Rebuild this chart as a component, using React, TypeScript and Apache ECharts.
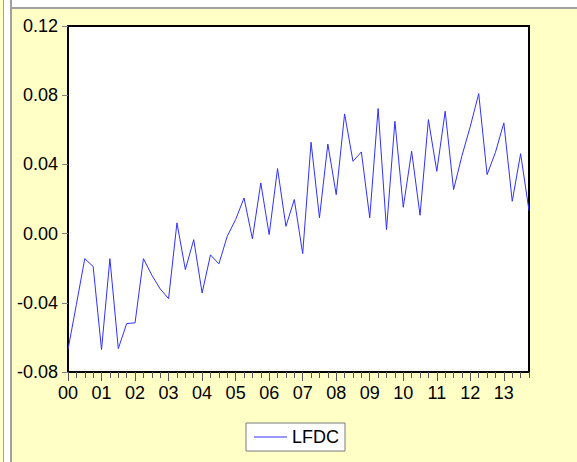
import React, { useEffect, useRef } from "react";
import * as echarts from "echarts";

const yearLabels = ["00", "01", "02", "03", "04", "05", "06", "07", "08", "09", "10", "11", "12", "13"];
const quarters = ["Q1", "Q2", "Q3", "Q4"];
const seriesName = "LFDC";
const lfdc = [
  -0.067, -0.041, -0.0145, -0.019,
  -0.067, -0.0145, -0.0665, -0.052,
  -0.0516, -0.0145, -0.024, -0.032,
  -0.0376, 0.0062, -0.0208, -0.0035,
  -0.0343, -0.0123, -0.0175, -0.0015,
  0.0081, 0.0206, -0.003, 0.0293,
  -0.0006, 0.0376, 0.0042, 0.0197,
  -0.0116, 0.0528, 0.0091, 0.0518,
  0.0225, 0.0692, 0.0418, 0.0472,
  0.0091, 0.0723, 0.0023, 0.0649,
  0.0152, 0.0476, 0.0106, 0.0659,
  0.036, 0.0707, 0.0254, 0.045,
  0.062, 0.0809, 0.0341, 0.047,
  0.064, 0.0187, 0.0462, 0.0133,
];
const yMin = -0.08;
const yMax = 0.12;
const yStep = 0.04;

const categories: string[] = [];
yearLabels.forEach((y) => quarters.forEach((q) => categories.push(y + q)));

export default function App() {
  const ref = useRef<HTMLDivElement>(null);
  useEffect(() => {
    if (!ref.current) return;
    const chart = echarts.init(ref.current, null, { renderer: "svg" });
    const yellow = "#FFFFC6";
    const frameGray = "#A0A0A0";
    const font = "Liberation Sans, Arial, sans-serif";
    chart.setOption({
      animation: false,
      backgroundColor: yellow,
      graphic: [
        { type: "rect", z: -10, shape: { x: 3, y: 0, width: 1, height: 462 }, style: { fill: frameGray } },
        { type: "rect", z: -10, shape: { x: 4, y: 0, width: 6, height: 462 }, style: { fill: "#FFFFFF" } },
        { type: "rect", z: -10, shape: { x: 10, y: 0, width: 2, height: 462 }, style: { fill: frameGray } },
        { type: "rect", z: -10, shape: { x: 12, y: 0, width: 565, height: 7 }, style: { fill: "#FFFFFF" } },
        { type: "rect", z: -10, shape: { x: 12, y: 7, width: 565, height: 2 }, style: { fill: frameGray } },
      ],
      grid: {
        left: 68,
        top: 26,
        right: 48,
        bottom: 90,
        show: true,
        backgroundColor: "#FFFFFF",
        borderColor: "#000000",
        borderWidth: 2,
      },
      legend: {
        data: [seriesName],
        left: 246,
        top: 423,
        padding: [5, 6, 5, 8],
        icon: "rect",
        itemWidth: 33,
        itemHeight: 1,
        itemGap: 8,
        backgroundColor: "#FFFFFF",
        borderColor: "#7A7A7A",
        borderWidth: 1,
        borderRadius: 0,
        textStyle: { fontFamily: font, fontSize: 18, color: "#000000", padding: [0, 0, 0, 0] },
      },
      xAxis: [
        {
          type: "category",
          data: categories,
          boundaryGap: false,
          axisLine: { show: true, onZero: false, lineStyle: { color: "#000000", width: 2 } },
          axisTick: { show: true, interval: 0, length: 6, lineStyle: { color: "#555555" } },
          axisLabel: { show: false },
          splitLine: { show: false },
        },
        {
          type: "category",
          data: categories,
          boundaryGap: false,
          position: "bottom",
          axisLine: { show: false, onZero: false },
          axisTick: { show: true, interval: 3, length: 9, lineStyle: { color: "#555555" } },
          axisLabel: {
            show: true,
            interval: 3,
            margin: 12,
            fontFamily: font,
            fontSize: 18,
            color: "#000000",
            formatter: (v: string) => v.slice(0, 2),
          },
          splitLine: { show: false },
        },
      ],
      yAxis: {
        type: "value",
        min: yMin,
        max: yMax,
        interval: yStep,
        axisLine: { show: true, onZero: false, lineStyle: { color: "#000000", width: 2 } },
        axisTick: { show: true, length: 6, lineStyle: { color: "#808080" } },
        axisLabel: {
          margin: 10,
          fontFamily: font,
          fontSize: 18,
          color: "#000000",
          formatter: (v: number) => v.toFixed(2),
        },
        splitLine: { show: false },
      },
      series: [
        {
          name: seriesName,
          type: "line",
          xAxisIndex: 0,
          data: lfdc,
          symbol: "none",
          lineStyle: { color: "#3030FF", width: 1 },
          itemStyle: { color: "#3030FF" },
        },
      ],
    });
    return () => chart.dispose();
  }, []);
  return (
    <div
      ref={ref}
      style={{ position: "absolute", left: 0, top: 0, width: 577, height: 462 }}
    />
  );
}
